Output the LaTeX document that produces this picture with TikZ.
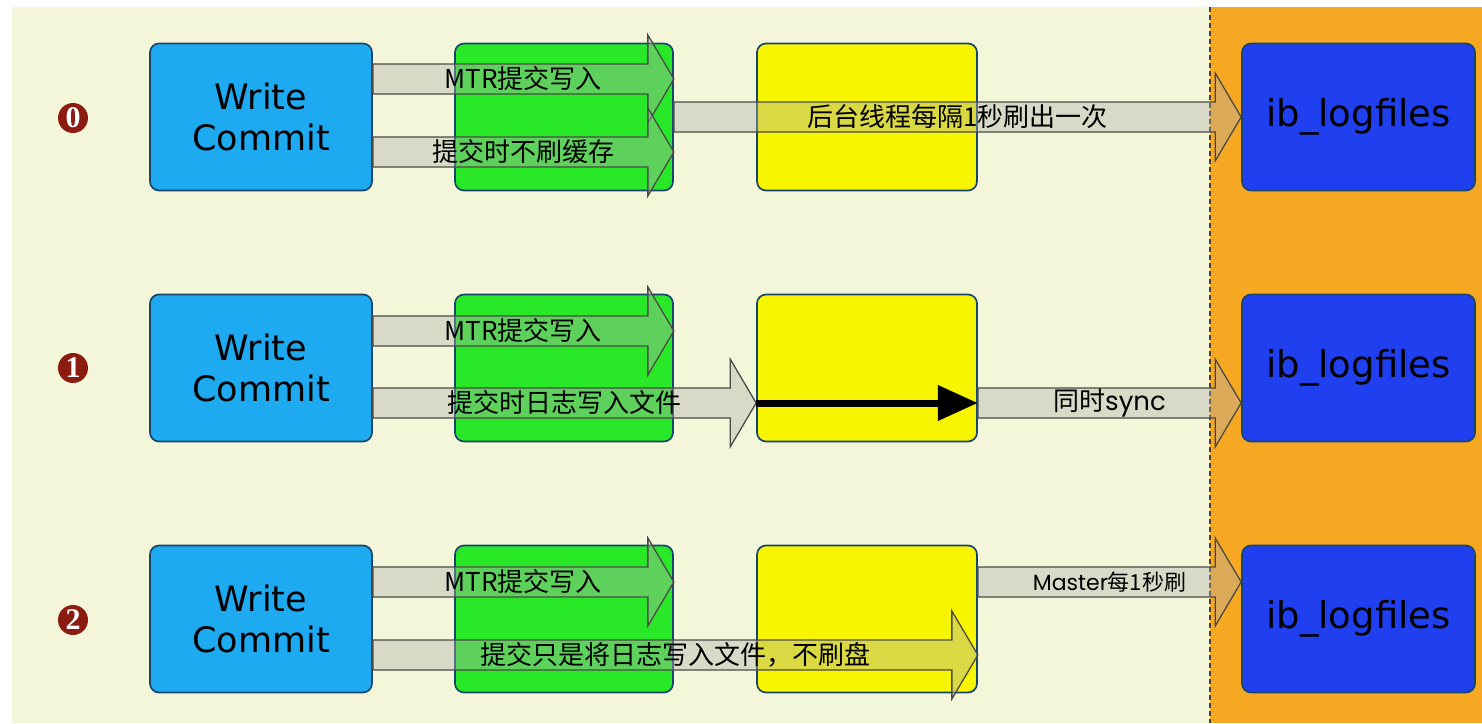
\documentclass[tikz,border=0pt]{standalone}
\usepackage{fontspec}
\setmainfont{DejaVu Sans}
\newfontfamily\cjk{Noto Sans CJK SC}
\newfontfamily\geo{Poppins}
\newfontfamily\numf{Liberation Serif}
\usetikzlibrary{calc,arrows.meta}
\definecolor{cream}{RGB}{244,246,218}
\definecolor{skyb}{RGB}{30,170,240}
\definecolor{grn}{RGB}{40,232,40}
\definecolor{ylw}{RGB}{248,245,0}
\definecolor{dblue}{RGB}{32,64,240}
\definecolor{orng}{RGB}{247,168,35}
\definecolor{boxborder}{RGB}{25,70,110}
\definecolor{numred}{RGB}{140,28,18}
\definecolor{arrfill}{RGB}{175,175,170}
\definecolor{arrborder}{RGB}{75,75,70}
\tikzset{
  box/.style={draw=boxborder, line width=1.7pt, rounded corners=9pt, minimum height=147pt, inner sep=0pt},
  wcbox/.style={box, fill=skyb, minimum width=222pt, font=\fontsize{35}{41}\selectfont, align=center},
  grbox/.style={box, fill=grn, minimum width=218pt},
  ylbox/.style={box, fill=ylw, minimum width=220pt},
  ibbox/.style={box, fill=dblue, minimum width=233pt, font=\fontsize{37}{44}\selectfont},
  fatarrow/.style={draw=arrborder, line width=1.3pt, fill=arrfill, fill opacity=0.4, line join=miter},
  lbl/.style={font=\cjk\fontsize{26}{30}\selectfont, inner sep=0pt, text=black},
  num/.style={circle, fill=numred, minimum size=30pt, inner sep=0pt, text=white, font=\numf\bfseries\fontsize{30}{30}\selectfont},
}
\newcommand\fatarr[4]{%
  \draw[fatarrow] let \p1=(#1), \p2=(#2) in
    (\x1,\y1+15pt) -- (\x2-26pt,\y1+15pt) -- (\x2-26pt,\y1+44pt) -- (\x2,\y1)
    -- (\x2-26pt,\y1-44pt) -- (\x2-26pt,\y1-15pt) -- (\x1,\y1-15pt) -- cycle;
  \node[lbl] (#3) at ($(#1)!0.5!(#2)$) {#4};}
\begin{document}
\begin{tikzpicture}[x=1pt,y=-1pt]
\useasboundingbox (0,0) rectangle (1482,723);
% background
\fill[white] (0,0) rectangle (1482,723);
\fill[cream] (12,7) rectangle (1482,723);
\fill[orng] (1210,7) rectangle (1482,723);
\draw[black!75, line width=1.2pt, dash pattern=on 5pt off 3pt] (1210,7) -- (1210,723);
% numbers
\node[num] (n0) at (73,118) {0};
\node[num] (n1) at (73,368) {1};
\node[num] (n2) at (73,620) {2};
% boxes
\foreach \r/\yy in {0/117,1/368,2/619}{
  \node[wcbox] (wc\r) at (261,\yy) {Write\\Commit};
  \node[grbox] (gr\r) at (564,\yy) {};
  \node[ylbox] (yl\r) at (867,\yy) {};
  \node[ibbox] (ib\r) at (1358.5,\yy) {ib\_logfiles};
}
% row 0
\fatarr{wc0.east |- 0,79}{gr0.east |- 0,79}{a0a}{MTR提交写入}
\fatarr{wc0.east |- 0,152}{gr0.east |- 0,152}{a0b}{提交时不刷缓存}
\fatarr{gr0.east |- 0,117}{ib0.west |- 0,117}{a0c}{后台线程每隔1秒刷出一次}
% row 1
\fatarr{wc1.east |- 0,331}{gr1.east |- 0,331}{a1a}{MTR提交写入}
\fatarr{wc1.east |- 0,403}{yl1.west |- 0,403}{a1b}{提交时日志写入文件}
\fatarr{yl1.east |- 0,403}{ib1.west |- 0,403}{a1c}{同时{\geo sync}}
\draw[line width=7pt, -{Triangle[length=40pt,width=34pt]}] (yl1.west |- 0,403) -- (yl1.east |- 0,403);
% row 2
\fatarr{wc2.east |- 0,582}{gr2.east |- 0,582}{a2a}{MTR提交写入}
\fatarr{wc2.east |- 0,655}{yl2.east |- 0,655}{a2b}{提交只是将日志写入文件，不刷盘}
\fatarr{yl2.east |- 0,582}{ib2.west |- 0,582}{a2c}{\fontsize{22}{26}\selectfont{\geo Master}每1秒刷}
\end{tikzpicture}
\end{document}
